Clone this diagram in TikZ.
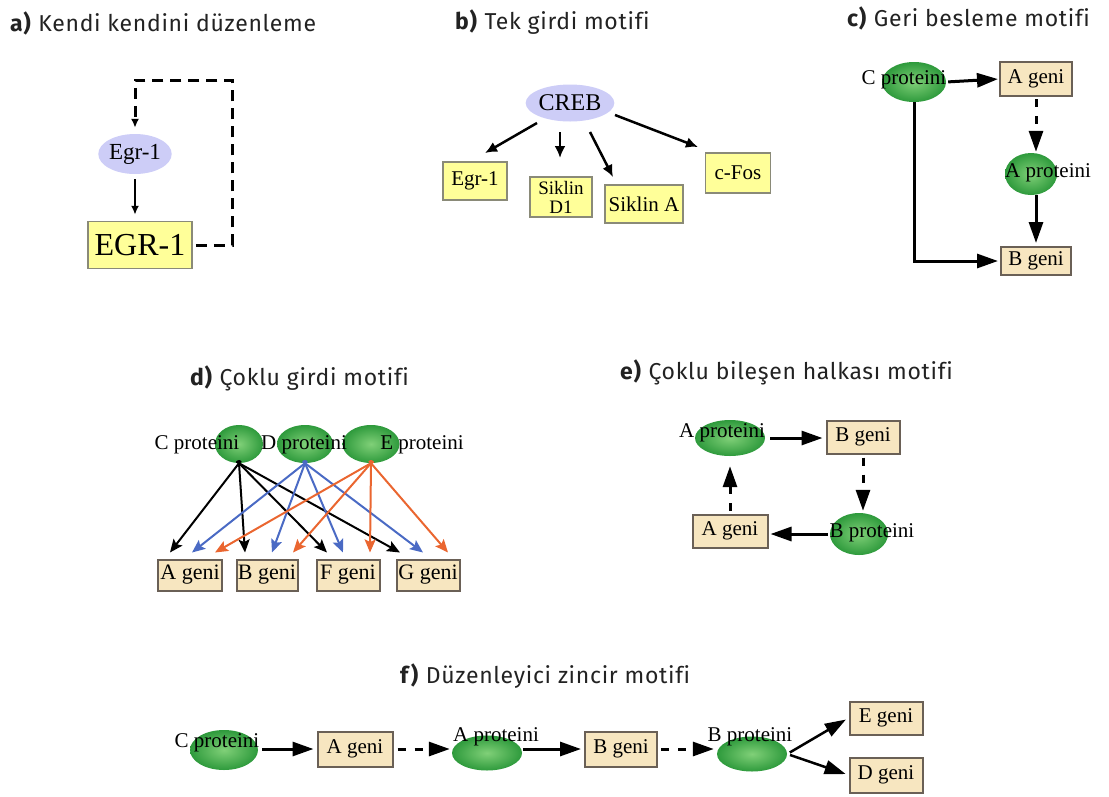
\documentclass[tikz,border=0pt]{standalone}
\usepackage{fontspec}
\setmainfont{Liberation Serif}
\newfontfamily\headfont{Fira Sans}[LetterSpace=3,Ligatures=NoCommon]
\usetikzlibrary{shapes.geometric,arrows.meta,calc}

\definecolor{boxyellow}{HTML}{FFFF99}
\definecolor{yedge}{HTML}{8A8A78}
\definecolor{boxbeige}{HTML}{F7E6C0}
\definecolor{boxedge}{HTML}{6A6056}
\definecolor{lav}{HTML}{CDCDF7}
\definecolor{glight}{HTML}{80D078}
\definecolor{gdark}{HTML}{2E9A3C}
\definecolor{arrblue}{HTML}{4A6AC4}
\definecolor{arrorange}{HTML}{EA6630}
\definecolor{ink}{HTML}{222222}

\newcommand{\fs}[1]{\fontsize{#1}{#1}\selectfont}

\begin{document}
\begin{tikzpicture}[x=1pt,y=-1pt,
  title/.style={anchor=west, font=\headfont\fs{23}, inner sep=0, text=ink},
  lab/.style={font=\fs{21}, inner sep=0},
  lell/.style={ellipse, fill=lav, inner sep=0},
  gell/.style={ellipse, inner sep=0, shading=radial, inner color=glight, outer color=gdark},
  ybox/.style={rectangle, fill=boxyellow, draw=yedge, line width=1.5pt, inner sep=0, font=\fs{21}},
  gbox/.style={rectangle, fill=boxbeige, draw=boxedge, line width=2pt, inner sep=0, font=\fs{21}},
  thinarr/.style={line width=2pt, -{Latex[length=9pt,width=8pt]}},
  midarr/.style={line width=2.5pt, -{Latex[length=12pt,width=11pt]}},
  bigarr/.style={line width=3pt, -{Triangle[length=21pt,width=14pt]}},
  bigdash/.style={line width=3pt, dash pattern=on 8pt off 9pt, -{Triangle[length=21pt,width=14pt]}},
  loopdash/.style={line width=3pt, dash pattern=on 11pt off 7pt, -{Latex[length=9pt,width=8pt]}},
  darr/.style={line width=2pt, -{Stealth[length=13pt,width=11pt,inset=2.5pt]}},
]
\useasboundingbox (0,0) rectangle (1109,796);

% ---------- a) self regulation ----------
\node[title] at (10,23) {\textbf{a)} Kendi kendini düzenleme};
\node[lell, minimum width=66pt, minimum height=40pt, font=\fs{23}] (egr) at (135,154) {Egr-1};
\node[ybox, minimum width=104pt, minimum height=47pt, font=\fs{32}] (EGR) at (140,245) {EGR-1};
\coordinate (loop) at (232,80);
\draw[thinarr, shorten <=5pt, shorten >=6pt] (egr.south) -- (egr.south |- EGR.north);
\draw[loopdash, shorten <=3pt, shorten >=6pt] (EGR.east) -| (loop) -| (egr.north);

% ---------- b) single input ----------
\node[title] at (455,22) {\textbf{b)} Tek girdi motifi};
\node[lell, minimum width=66pt, minimum height=37pt, font=\fs{24}] (creb) at (570,103) {CREB};
\node[ybox, minimum width=64pt, minimum height=38pt] (b1) at (475,181) {Egr-1};
\node[ybox, minimum width=62pt, minimum height=40pt, align=center, font=\fs{19}] (b2) at (561,197)
  {\fontsize{19}{17}\selectfont Siklin\\D1};
\node[ybox, minimum width=78pt, minimum height=38pt] (b3) at (644,204) {Siklin A};
\node[ybox, minimum width=65pt, minimum height=40pt] (b4) at (738,173) {c-Fos};
\draw[midarr] ([shift={(-33,20)}]creb.center) -- ([shift={(10,-28)}]b1.center);
\draw[midarr] ([shift={(-10,29)}]creb.center) -- ([shift={(-1,-39)}]b2.center);
\draw[midarr] ([shift={(20,29)}]creb.center) -- ([shift={(-31,-27)}]b3.center);
\draw[midarr] ([shift={(45,12)}]creb.center) -- ([shift={(-40,-26)}]b4.center);

% ---------- c) feed-forward ----------
\node[title] at (847,18) {\textbf{c)} Geri besleme motifi};
\node[gell, minimum width=64pt, minimum height=40pt] (cC) at (914,82) {};
\node[lab] at (904,80) {C proteini};
\node[gbox, minimum width=72pt, minimum height=34pt] (cA) at (1036,79) {A geni};
\node[gell, minimum width=52pt, minimum height=42pt] (cAp) at (1031,174) {};
\node[lab, anchor=west] at (1005,173) {A proteini};
\node[gbox, minimum width=70pt, minimum height=28pt] (cB) at (1036,261) {B geni};
\draw[bigarr, shorten <=2pt, shorten >=1pt] (cC.east) -- (cA.west);
\draw[bigdash, shorten <=2pt, shorten >=1pt] (cA.south) -- (cA.south |- cAp.north);
\draw[bigarr, shorten >=3pt] (cB.north |- cAp.south) -- (cB.north);
\draw[bigarr, shorten >=2pt] (cC.south) |- (cB.west);

% ---------- d) multiple input ----------
\node[title] at (190,378) {\textbf{d)} Çoklu girdi motifi};
\node[gell, minimum width=48pt, minimum height=38pt] (dC) at (239,444) {};
\node[gell, minimum width=56pt, minimum height=38pt] (dD) at (305,444) {};
\node[gell, minimum width=57pt, minimum height=38pt] (dE) at (371,444) {};
\node[lab] at (197,445) {C proteini};
\node[lab] at (304,445) {D proteini};
\node[lab] at (422,445) {E proteini};
\node[gbox, minimum width=64pt, minimum height=31pt, font=\fs{22}] (dA) at (190,575) {A geni};
\node[gbox, minimum width=61pt, minimum height=31pt, font=\fs{22}] (dB) at (267,575) {B geni};
\node[gbox, minimum width=63pt, minimum height=31pt, font=\fs{22}] (dF) at (348,575) {F geni};
\node[gbox, minimum width=63pt, minimum height=31pt, font=\fs{22}] (dG) at (428,575) {G geni};
\begin{scope}[shorten <=-3pt]
\draw[darr] (dC.south) -- ([shift={(-20,-6)}]dA.north);
\draw[darr] (dC.south) -- ([shift={(-22,-6)}]dB.north);
\draw[darr] (dC.south) -- ([shift={(-21,-6)}]dF.north);
\draw[darr] (dC.south) -- ([shift={(-28,-6)}]dG.north);
\draw[darr, arrblue] (dD.south) -- ([shift={(2,-6)}]dA.north);
\draw[darr, arrblue] (dD.south) -- ([shift={(5,-6)}]dB.north);
\draw[darr, arrblue] (dD.south) -- ([shift={(-5,-6)}]dF.north);
\draw[darr, arrblue] (dD.south) -- ([shift={(-5,-6)}]dG.north);
\draw[darr, arrorange] (dE.south) -- ([shift={(25,-6)}]dA.north);
\draw[darr, arrorange] (dE.south) -- ([shift={(26,-6)}]dB.north);
\draw[darr, arrorange] (dE.south) -- ([shift={(22,-6)}]dF.north);
\draw[darr, arrorange] (dE.south) -- ([shift={(20,-6)}]dG.north);
\end{scope}

% ---------- e) multi-component loop ----------
\node[title] at (620,372) {\textbf{e)} Çoklu bileşen halkası motifi};
\node[gell, minimum width=70pt, minimum height=36pt] (eAp) at (730,438) {};
\node[lab] at (722,433) {A proteini};
\node[gbox, minimum width=73pt, minimum height=33pt] (eB) at (863,437) {B geni};
\node[gell, minimum width=58pt, minimum height=42pt] (eBp) at (859,534) {};
\node[lab] at (872,533) {B proteini};
\node[gbox, minimum width=75pt, minimum height=33pt] (eA) at (730,531) {A geni};
\draw[bigarr, shorten <=5pt, shorten >=3pt] (eAp.east) -- (eAp.east -| eB.west);
\draw[bigdash, shorten <=3pt, shorten >=2pt] (eB.south) -- (eB.south |- eBp.north);
\draw[bigarr, shorten <=2pt, shorten >=2pt] (eBp.west) -- (eBp.west -| eA.east);
\draw[bigdash, shorten <=3pt, shorten >=10pt] (eA.north) -- (eA.north |- eAp.south);

% ---------- f) regulator chain ----------
\node[title] at (400,676) {\textbf{f)} Düzenleyici zincir motifi};
\node[gell, minimum width=68pt, minimum height=40pt] (fC) at (224,750) {};
\node[lab] at (217,743) {C proteini};
\node[gbox, minimum width=75pt, minimum height=35pt] (fA) at (355,749) {A geni};
\node[gell, minimum width=70pt, minimum height=35pt] (fAp) at (487,753) {};
\node[lab] at (496,737) {A proteini};
\node[gbox, minimum width=72pt, minimum height=35pt] (fB) at (621,749) {B geni};
\node[gell, minimum width=70pt, minimum height=35pt] (fBp) at (752,754) {};
\node[lab] at (750,737) {B proteini};
\node[gbox, minimum width=73pt, minimum height=33pt] (fE) at (886,718) {E geni};
\node[gbox, minimum width=73pt, minimum height=35pt] (fD) at (886,775) {D geni};
\draw[bigarr, shorten <=4pt, shorten >=3pt] (fC.east |- fA.west) -- (fA.west);
\draw[bigdash, shorten <=4pt, shorten >=2pt] (fA.east) -- (fA.east -| fAp.west);
\draw[bigarr, shorten <=1pt, shorten >=3pt] (fAp.east |- fB.west) -- (fB.west);
\draw[bigdash, shorten <=3pt, shorten >=3pt] (fB.east) -- (fB.east -| fBp.west);
\draw[bigarr, line width=2.5pt, shorten <=3pt, shorten >=3pt] (fBp.east) -- (fE.west);
\draw[bigarr, line width=2.5pt, shorten <=3pt, shorten >=3pt] (fBp.east) -- (fD.west);
\end{tikzpicture}
\end{document}
